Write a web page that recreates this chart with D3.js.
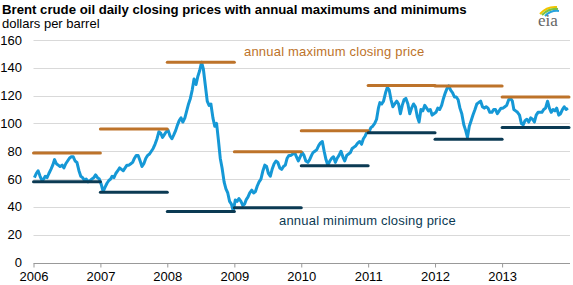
<!DOCTYPE html>
<meta charset="utf-8">
<head>
  <title>Brent crude oil daily closing prices</title>
</head>
<style>
body { margin: 0; background: #fff; }
text { font-family: "Liberation Sans", Arial, sans-serif; }
.grid line { stroke: #d9d9d9; stroke-width: 1px; }
.price { fill: none; stroke: #1598d6; stroke-width: 3px; stroke-linejoin: round; }
.maxline { stroke: #bd732a; stroke-width: 3px; stroke-linecap: round; }
.minline { stroke: #0b3a53; stroke-width: 3px; stroke-linecap: round; }
</style>
<body>
<script src="https://d3js.org/d3.v7.min.js"></script>
<script>

// years shown on the x axis
var years = [2006, 2007, 2008, 2009, 2010, 2011, 2012, 2013];

// closing prices, three readings per month (about the 6th, 16th, 26th)
var prices2006 = [61, 64, 66, 62, 59, 60, 62, 61, 64, 67, 70, 74, 71, 70, 69, 70, 68, 71,
                  73, 75, 76, 76, 73, 72, 66, 62, 61, 59, 60, 58, 59, 60, 61, 63, 61, 60];
var prices2007 = [56, 51, 54, 57, 59, 60, 62, 61, 64, 66, 68, 67, 66, 68, 70, 70, 71, 72,
                  75, 77, 77, 73, 69, 71, 75, 77, 78, 80, 82, 85, 89, 94, 93, 90, 92, 94];
var prices2008 = [95, 91, 89, 92, 95, 99, 102, 104, 101, 104, 109, 114, 118, 124, 132, 128, 134, 138,
                  144, 139, 128, 116, 113, 114, 104, 98, 100, 88, 75, 68, 58, 53, 50, 44, 42, 37];
var prices2009 = [45, 44, 46, 44, 41, 42, 45, 47, 50, 52, 50, 51, 55, 58, 60, 66, 70, 69,
                  64, 62, 67, 71, 73, 72, 68, 67, 69, 70, 75, 77, 77, 78, 79, 76, 73, 76];
var prices2010 = [79, 77, 73, 72, 74, 77, 79, 80, 81, 84, 86, 87, 80, 74, 70, 73, 75, 76,
                  72, 75, 77, 80, 76, 73, 77, 78, 79, 82, 83, 84, 86, 87, 85, 89, 91, 94];
var prices2011 = [94, 97, 98, 100, 103, 111, 115, 114, 116, 122, 126, 124, 117, 112, 114, 116, 114, 107,
                  113, 117, 118, 114, 107, 111, 114, 112, 105, 101, 110, 109, 113, 111, 109, 110, 106, 107];
var prices2012 = [108, 111, 110, 113, 118, 122, 125, 127, 124, 122, 119, 119, 117, 111, 107, 99, 95, 90,
                  98, 102, 106, 110, 114, 115, 116, 112, 111, 112, 111, 108, 108, 110, 110, 107, 109, 111];
var prices2013 = [111, 112, 113, 117, 118, 116, 110, 109, 108, 106, 100, 99, 102, 103, 101, 104, 103, 101,
                  106, 108, 108, 108, 110, 111, 116, 111, 108, 110, 109, 111, 106, 107, 110, 112, 110, 111];

// annual maximum and minimum closing prices
var annualMax = [78.7, 96.0, 144.0, 79.7, 94.8, 127.2, 127.0, 119.0];
var annualMin = [58.0, 50.5, 36.6, 39.4, 69.6, 93.3, 88.7, 97.0];

var yTicks = [0, 20, 40, 60, 80, 100, 120, 140, 160];

var width = 573, height = 285;
var margin = {top: 40, right: 4, bottom: 22.5, left: 33.5};

var svg = d3.select("body").append("svg")
    .attr("width", width)
    .attr("height", height);

var x = d3.scaleTime()
    .domain([new Date(2006, 0, 1), new Date(2014, 0, 1)])
    .range([margin.left, 569]);
var y = d3.scaleLinear()
    .domain([0, 160])
    .range([height - margin.bottom, margin.top]);

// build the daily series from the yearly arrays
var allPrices = [prices2006, prices2007, prices2008, prices2009, prices2010, prices2011, prices2012, prices2013];
var series = [];
allPrices.forEach(function(arr, k) {
  arr.forEach(function(v, i) {
    series.push({date: new Date(years[k], Math.floor(i / 3), 6 + (i % 3) * 10), value: v});
  });
});

// title
svg.append("text")
    .attr("x", 2).attr("y", 13.5)
    .style("font-size", "13.2px").style("font-weight", "bold").attr("fill", "#000")
    .text("Brent crude oil daily closing prices with annual maximums and minimums");
svg.append("text")
    .attr("x", 2).attr("y", 27.5)
    .style("font-size", "13px").attr("fill", "#000")
    .text("dollars per barrel");

// gridlines
svg.append("g").attr("class", "grid")
  .selectAll("line").data(yTicks.filter(function(d) { return d > 0; }))
  .enter().append("line")
    .attr("x1", margin.left).attr("x2", 570)
    .attr("y1", function(d) { return Math.round(y(d)) + 0.5; })
    .attr("y2", function(d) { return Math.round(y(d)) + 0.5; });

// y labels
svg.append("g")
  .selectAll("text").data(yTicks)
  .enter().append("text")
    .attr("x", 22).attr("y", function(d) { return y(d) + 4.5; })
    .attr("text-anchor", "end")
    .style("font-size", "13px").attr("fill", "#000")
    .text(function(d) { return d; });

// x axis
var xAxis = svg.append("g")
    .attr("transform", "translate(0," + (Math.round(y(0)) + 0.5) + ")")
    .call(d3.axisBottom(x)
      .tickValues(years.map(function(yr) { return new Date(yr, 0, 1); }))
      .tickFormat(d3.timeFormat("%Y"))
      .tickSize(4)
      .tickSizeOuter(0));
xAxis.select(".domain").attr("stroke", "#999").attr("d", "M" + margin.left + ",0H570");
xAxis.selectAll(".tick line").attr("stroke", "#999");
xAxis.selectAll(".tick text")
    .attr("y", 8)
    .style("font-size", "13px")
    .style("font-family", "Liberation Sans, Arial, sans-serif")
    .attr("fill", "#000");

// price line
svg.append("path")
    .datum(series)
    .attr("class", "price")
    .attr("d", d3.line()
      .x(function(d) { return x(d.date); })
      .y(function(d) { return y(d.value); }));

// annual max / min segments
svg.append("g").selectAll("line").data(years)
  .enter().append("line")
    .attr("class", "maxline")
    .attr("x1", function(d) { return x(new Date(d, 0, 1)); })
    .attr("x2", function(d) { return x(new Date(d + 1, 0, 1)); })
    .attr("y1", function(d, i) { return y(annualMax[i]); })
    .attr("y2", function(d, i) { return y(annualMax[i]); });
svg.append("g").selectAll("line").data(years)
  .enter().append("line")
    .attr("class", "minline")
    .attr("x1", function(d) { return x(new Date(d, 0, 1)); })
    .attr("x2", function(d) { return x(new Date(d + 1, 0, 1)); })
    .attr("y1", function(d, i) { return y(annualMin[i]); })
    .attr("y2", function(d, i) { return y(annualMin[i]); });

// annotations
svg.append("text")
    .attr("x", 244).attr("y", 56)
    .style("font-size", "13px").style("letter-spacing", "0.2px").attr("fill", "#bd732a")
    .text("annual maximum closing price");
svg.append("text")
    .attr("x", 279).attr("y", 225)
    .style("font-size", "13px").style("letter-spacing", "0.2px").attr("fill", "#0b3a53")
    .text("annual minimum closing price");

// eia logo
var logo = svg.append("g").attr("transform", "translate(537,6)");
logo.append("path").attr("d", "M3,8 Q10,0 20,1").attr("fill", "none").attr("stroke", "#f2c500").attr("stroke-width", 2);
logo.append("path").attr("d", "M5,9 Q12,2 21,3").attr("fill", "none").attr("stroke", "#7cc242").attr("stroke-width", 2);
logo.append("path").attr("d", "M8,10 Q14,4 22,5").attr("fill", "none").attr("stroke", "#27a3dc").attr("stroke-width", 2);
logo.append("text")
    .attr("x", 1).attr("y", 20)
    .style("font-family", "Liberation Serif, serif").style("font-size", "17px")
    .attr("fill", "#666")
    .text("eia");

</script>
</body>
